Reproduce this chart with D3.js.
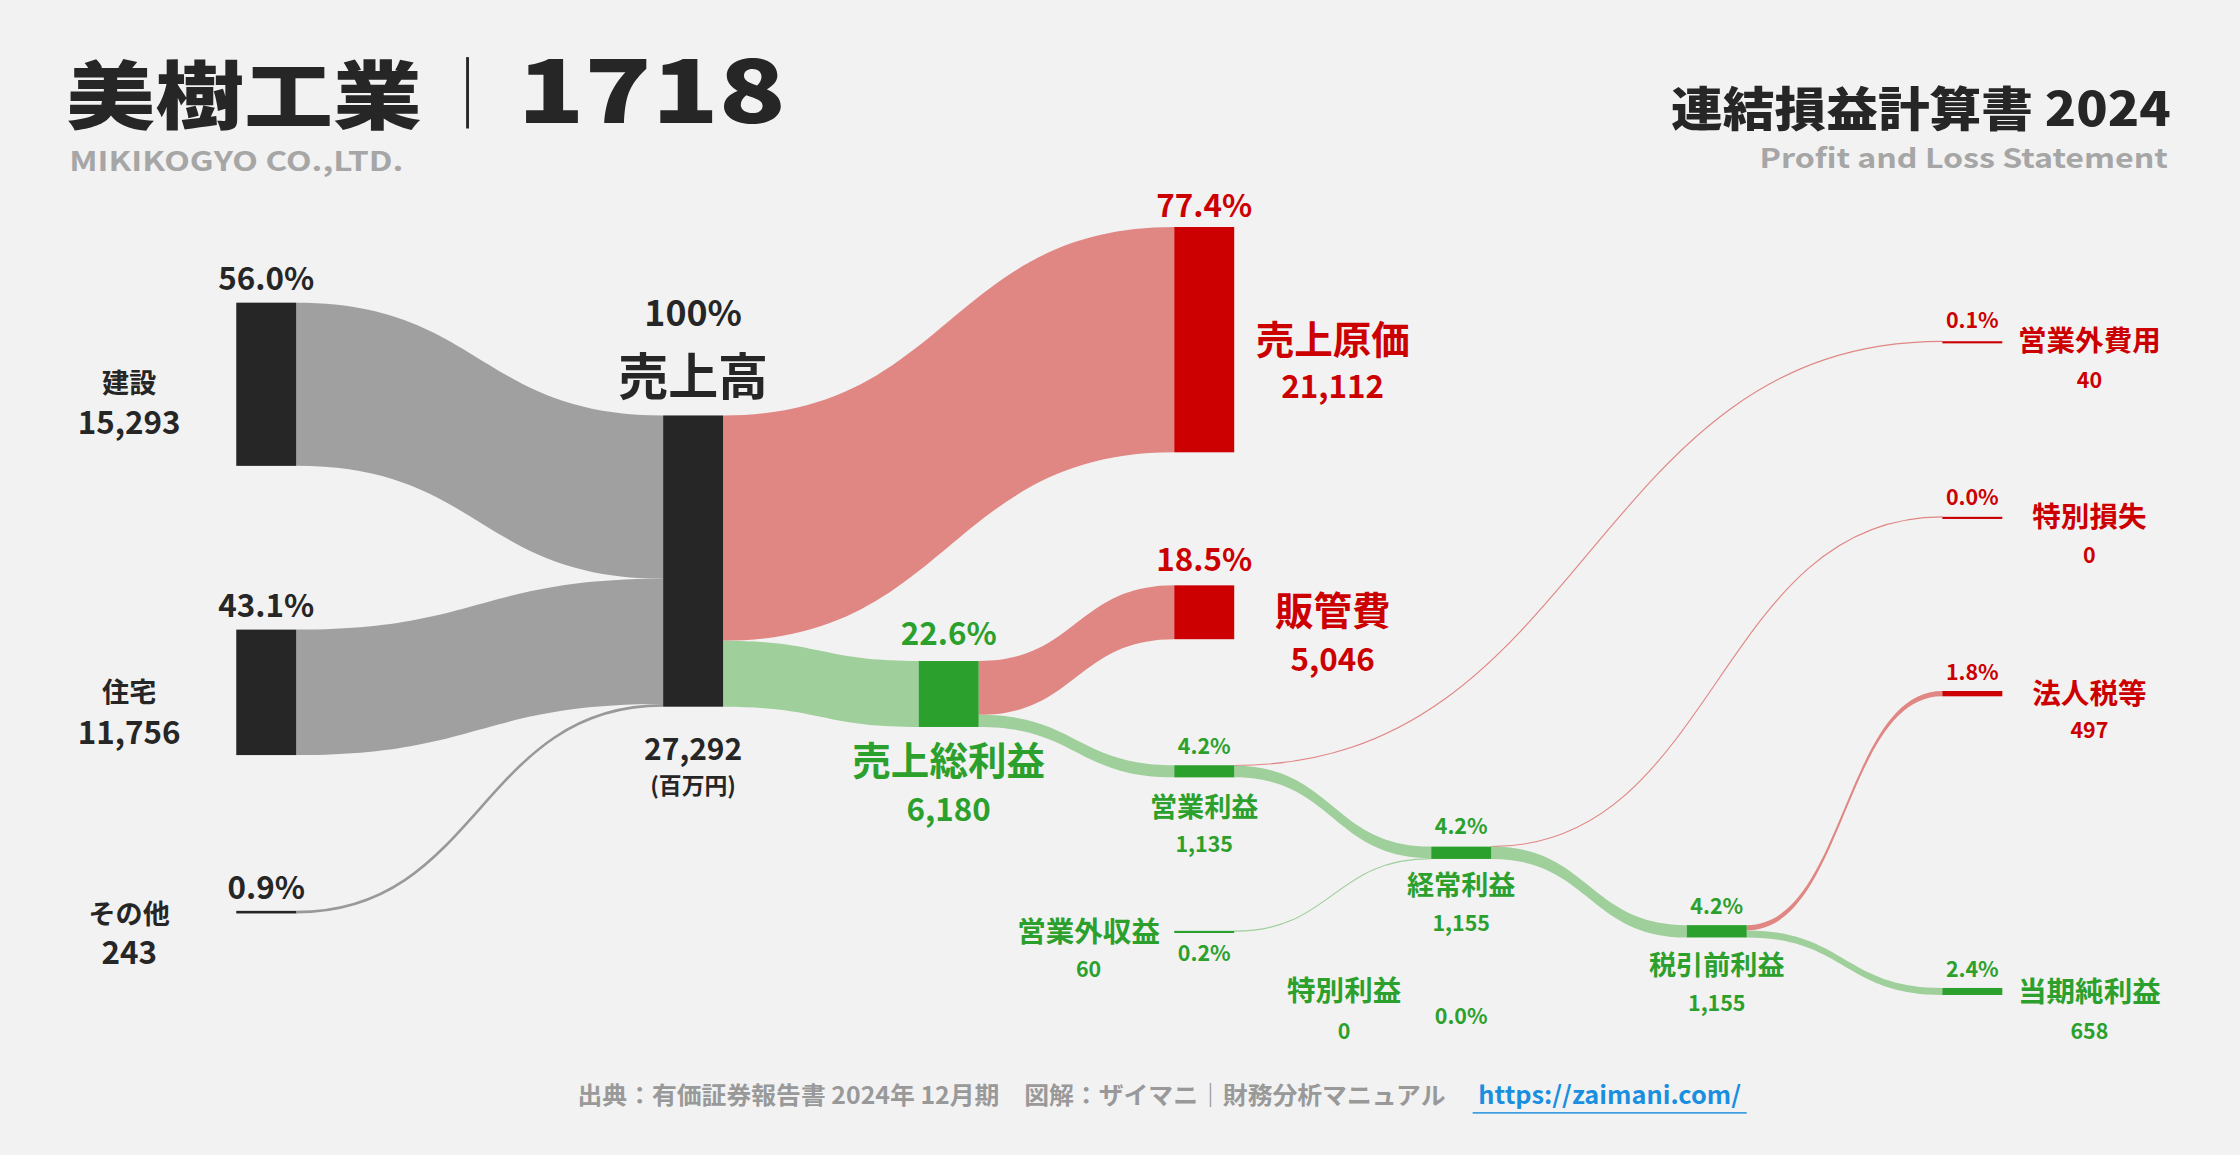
<!DOCTYPE html><html><head><meta charset="utf-8">
<script src="https://cdn.jsdelivr.net/npm/d3@7"></script>
<style>body{margin:0;background:#f2f2f2}svg{display:block}text{font-family:"Noto Sans CJK JP","Noto Sans",sans-serif}</style></head><body>
<svg id="c" width="2240" height="1155" viewBox="0 0 1568 809"></svg>
<script>
const nodeNames=["建設","住宅","その他","売上高","売上原価","販管費","売上総利益","営業利益","営業外収益","営業外費用","経常利益","特別利益","特別損失","税引前利益","法人税等","当期純利益"];
const nodeValues=[15293,11756,243,27292,21112,5046,6180,1135,60,40,1155,0,0,1155,497,658];
const nodePcts=["56.0%","43.1%","0.9%","100%","77.4%","18.5%","22.6%","4.2%","0.2%","0.1%","4.2%","0.0%","0.0%","4.2%","1.8%","2.4%"];
const linkSources=["建設","住宅","その他","売上高","売上高","売上総利益","売上総利益","営業利益","営業利益","営業外収益","経常利益","経常利益","税引前利益","税引前利益"];
const linkTargets=["売上高","売上高","売上高","売上原価","売上総利益","販管費","営業利益","営業外費用","経常利益","経常利益","特別損失","税引前利益","法人税等","当期純利益"];
const linkValues=[15293,11756,243,21112,6180,5046,1135,40,1095,60,0,1155,497,658];

const svg=d3.select("#c");
svg.append("rect").attr("width",1568).attr("height",809).attr("fill","#f2f2f2");
const h=d3.scaleLinear().domain([0,27292]).range([0,204]);
const col=d3.scaleOrdinal().domain([0,1,2,3,4,5,6]).range([165,464,643,822,1002,1181,1360]);
const L={"建設":[0,212,"k"],"住宅":[0,441,"k"],"その他":[0,638,"k"],"売上高":[1,291,"k"],"売上原価":[3,159,"r"],"販管費":[3,410,"r"],"売上総利益":[2,463,"g"],"営業利益":[3,536,"g"],"営業外収益":[3,652,"g"],"営業外費用":[6,239,"r"],"経常利益":[4,593,"g"],"特別利益":[4,700,"g"],"特別損失":[6,362,"r"],"税引前利益":[5,648,"g"],"法人税等":[6,484,"r"],"当期純利益":[6,692,"g"]};
const W=42;
const nodes={};
nodeNames.forEach((n,i)=>{const[c,y,t]=L[n];nodes[n]={x:col(c),y,t,hgt:h(nodeValues[i]),out:y,inn:y,v:nodeValues[i]};});
const linkCol={k:"#a0a0a0",r:"#e08784",g:"#9fcf9a"};
const nodeCol={k:"#262626",r:"#cc0000",g:"#2ca02c"};
linkSources.forEach((s,i)=>{
 const S=nodes[s],T=nodes[linkTargets[i]],w=h(linkValues[i]);
 const x1=S.x+W,x0=T.x,xm=(x1+x0)/2;
 let ys=S.out,yt=T.inn;S.out+=w;T.inn+=w;
 const type=T.t;
 if(w<2){const ww=Math.max(w,0.8);
  svg.append("path").attr("d",`M${x1},${ys+w/2}C${xm},${ys+w/2} ${xm},${yt+w/2} ${x0},${yt+w/2}`).attr("fill","none").attr("stroke",type==="k"?"#999":linkCol[type]).attr("stroke-width",ww);
 } else svg.append("path").attr("d",`M${x1},${ys}C${xm},${ys} ${xm},${yt} ${x0},${yt}L${x0},${yt+w}C${xm},${yt+w} ${xm},${ys+w} ${x1},${ys+w}Z`).attr("fill",linkCol[type]);
});
nodeNames.forEach(n=>{const N=nodes[n];if(n==="特別利益")return;
 svg.append("rect").attr("x",N.x).attr("y",N.y).attr("width",W).attr("height",Math.max(N.hgt,1.5)).attr("fill",nodeCol[N.t]);});
function T(x,y,s,size,fill,w,anchor){return svg.append("text").attr("x",x).attr("y",y).text(s).attr("font-size",size).attr("fill",fill).attr("font-weight",w||700).attr("text-anchor",anchor||"middle");}
const fmt=d3.format(",");
const K="#262626",R="#cc0000",G="#2ca02c";
const P=n=>nodePcts[nodeNames.indexOf(n)],V=n=>fmt(nodes[n].v);
T(186,203,P("建設"),22,K);T(90,275,"建設",19,K);T(90,304,V("建設"),22,K);
T(186,432,P("住宅"),22,K);T(90,492,"住宅",19,K);T(90,521,V("住宅"),22,K);
T(186,630,P("その他"),22,K);T(90,647,"その他",19,K);T(90,675,V("その他"),22,K);
T(485,228,"100%",25,K);T(485,277,"売上高",35,K);T(485,532,V("売上高"),21,K);T(485,556,"(百万円)",16,K);
T(843,152,P("売上原価"),22,R);T(933,248,"売上原価",27,R);T(933,279,V("売上原価"),22,R);
T(843,400,P("販管費"),22,R);T(933,438,"販管費",27,R);T(933,470,V("販管費"),22,R);
T(664,452,P("売上総利益"),22,G);T(664,543,"売上総利益",27,G);T(664,575,V("売上総利益"),22,G);
T(843,528,P("営業利益"),15,G);T(843,572,"営業利益",19,G);T(843,597,V("営業利益"),15,G);
T(1023,584,P("経常利益"),15,G);T(1023,627,"経常利益",19,G);T(1023,652,V("経常利益"),15,G);
T(1202,640,P("税引前利益"),15,G);T(1202,683,"税引前利益",19,G);T(1202,708,V("税引前利益"),15,G);
T(762,660,"営業外収益",20,G);T(762,684,V("営業外収益"),15,G);T(843,673,P("営業外収益"),15,G);
T(941,701,"特別利益",20,G);T(941,728,"0",15,G);T(1023,717,P("特別利益"),15,G);
T(1381,230,P("営業外費用"),15,R);T(1463,246,"営業外費用",20,R);T(1463,272,V("営業外費用"),15,R);
T(1381,354,P("特別損失"),15,R);T(1463,369,"特別損失",20,R);T(1463,394,"0",15,R);
T(1381,476,P("法人税等"),15,R);T(1463,493,"法人税等",20,R);T(1463,517,V("法人税等"),15,R);
T(1381,684,P("当期純利益"),15,G);T(1463,702,"当期純利益",20,G);T(1463,728,V("当期純利益"),15,G);
T(46,86,"美樹工業",52,K,900,"start").attr("textLength",249).attr("lengthAdjust","spacingAndGlyphs");
svg.append("rect").attr("x",326).attr("y",40).attr("width",2).attr("height",50).attr("fill",K);
T(362,86,"1718",62,K,900,"start").attr("textLength",188).attr("lengthAdjust","spacingAndGlyphs");
T(48,120,"MIKIKOGYO CO.,LTD.",19,"#a6a6a6",700,"start").attr("textLength",234).attr("lengthAdjust","spacingAndGlyphs");
T(1520,88,"連結損益計算書 2024",33,K,900,"end").attr("textLength",350).attr("lengthAdjust","spacingAndGlyphs");
T(1518,118,"Profit and Loss Statement",19,"#a6a6a6",700,"end").attr("textLength",286).attr("lengthAdjust","spacingAndGlyphs");
T(708,773,"出典：有価証券報告書 2024年 12月期　図解：ザイマニ｜財務分析マニュアル",17,"#999",700,"middle").attr("textLength",608).attr("lengthAdjust","spacingAndGlyphs");
T(1127,773,"https://zaimani.com/",17,"#1a8fe0",700,"middle").attr("textLength",184).attr("lengthAdjust","spacingAndGlyphs");
svg.append("rect").attr("x",1031).attr("y",779).attr("width",192).attr("height",1).attr("fill","#1a8fe0");
</script></body></html>
